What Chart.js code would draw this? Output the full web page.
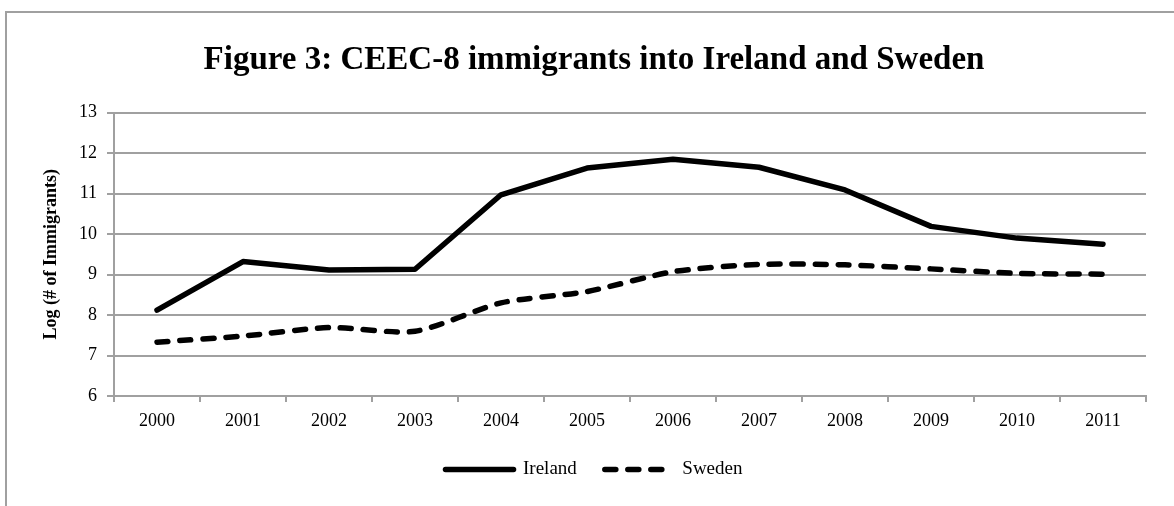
<!DOCTYPE html>
<html>
<head>
<meta charset="utf-8">
<script src="https://cdn.jsdelivr.net/npm/chart.js@4/dist/chart.umd.min.js"></script>
<style>
    html, body { margin: 0; padding: 0; background: #fff; }
    #wrap { position: relative; width: 1174px; height: 506px; }
    #frame { position: absolute; left: 5px; top: 11px; right: -10px; bottom: -10px; border-left: 2px solid #a0a0a0; border-top: 2px solid #a0a0a0; }
    #chart { position: absolute; left: 0; top: 0; }
</style>
</head>
<body>
<div id="wrap">
    <div id="frame"></div>
    <canvas id="chart" width="1174" height="506"></canvas>
</div>
<script>
const years = ['2000', '2001', '2002', '2003', '2004', '2005', '2006', '2007', '2008', '2009', '2010', '2011'];
const ireland = [8.12, 9.32, 9.11, 9.13, 10.97, 11.63, 11.85, 11.65, 11.09, 10.19, 9.90, 9.75];
const sweden = [7.33, 7.48, 7.69, 7.60, 8.30, 8.58, 9.07, 9.25, 9.24, 9.14, 9.03, 9.01];
const yTicks = [6, 7, 8, 9, 10, 11, 12, 13];

const serif = "'Liberation Serif', 'DejaVu Serif', serif";
const gridGray = '#a0a0a0';

function initChart() {
    const ctx = document.getElementById('chart').getContext('2d');

    new Chart(ctx, {
        type: 'line',
        data: {
            labels: years,
            datasets: [
                {
                    label: 'Ireland',
                    data: ireland,
                    borderColor: '#000',
                    backgroundColor: '#000',
                    borderWidth: 5.5,
                    borderCapStyle: 'round',
                    borderJoinStyle: 'round',
                    pointRadius: 0,
                    pointStyle: 'line',
                    tension: 0
                },
                {
                    label: 'Sweden',
                    data: sweden,
                    borderColor: '#000',
                    backgroundColor: '#000',
                    borderWidth: 5.5,
                    borderDash: [11, 12],
                    borderCapStyle: 'round',
                    borderJoinStyle: 'round',
                    pointRadius: 0,
                    pointStyle: 'line',
                    tension: 0.25
                }
            ]
        },
        options: {
            responsive: false,
            animation: false,
            layout: { padding: { top: 41, right: 28, bottom: 17, left: 42 } },
            plugins: {
                title: {
                    display: true,
                    text: 'Figure 3: CEEC-8 immigrants into Ireland and Sweden',
                    color: '#000',
                    font: { family: serif, size: 33, weight: 'bold', lineHeight: 1.2 },
                    padding: { top: 0, bottom: 32 }
                },
                legend: {
                    position: 'bottom',
                    labels: {
                        color: '#000',
                        font: { family: serif, size: 19 },
                        usePointStyle: true,
                        pointStyleWidth: 68,
                        padding: 28,
                        generateLabels: chart => {
                            const items = Chart.defaults.plugins.legend.labels.generateLabels(chart);
                            items.forEach(item => {
                                const ds = chart.data.datasets[item.datasetIndex];
                                item.lineDash = ds.borderDash || [];
                                item.lineCap = 'round';
                                item.lineWidth = 5.5;
                                item.strokeStyle = '#000';
                            });
                            return items;
                        }
                    }
                },
                tooltip: { enabled: false }
            },
            scales: {
                x: {
                    offset: true,
                    grid: { offset: true, drawOnChartArea: false, drawTicks: true, tickLength: 6, color: gridGray, lineWidth: 2 },
                    border: { color: gridGray, width: 2 },
                    ticks: { color: '#000', font: { family: serif, size: 18 }, padding: 8, maxRotation: 0 },
                    afterFit: scale => { scale.height = 36; }
                },
                y: {
                    min: 6,
                    max: 13,
                    afterBuildTicks: scale => { scale.ticks = yTicks.map(v => ({ value: v })); },
                    grid: { color: gridGray, lineWidth: 2, tickLength: 7 },
                    border: { color: gridGray, width: 2 },
                    ticks: { color: '#000', font: { family: serif, size: 18 }, padding: 10 },
                    title: {
                        display: true,
                        text: 'Log (# of Immigrants)',
                        color: '#000',
                        font: { family: serif, size: 18, weight: 'bold', lineHeight: 1 },
                        padding: { top: 0, bottom: 0 }
                    },
                    afterFit: scale => { scale.width = 72; }
                }
            }
        }
    });
}

document.addEventListener('DOMContentLoaded', initChart);
</script>
</body>
</html>
